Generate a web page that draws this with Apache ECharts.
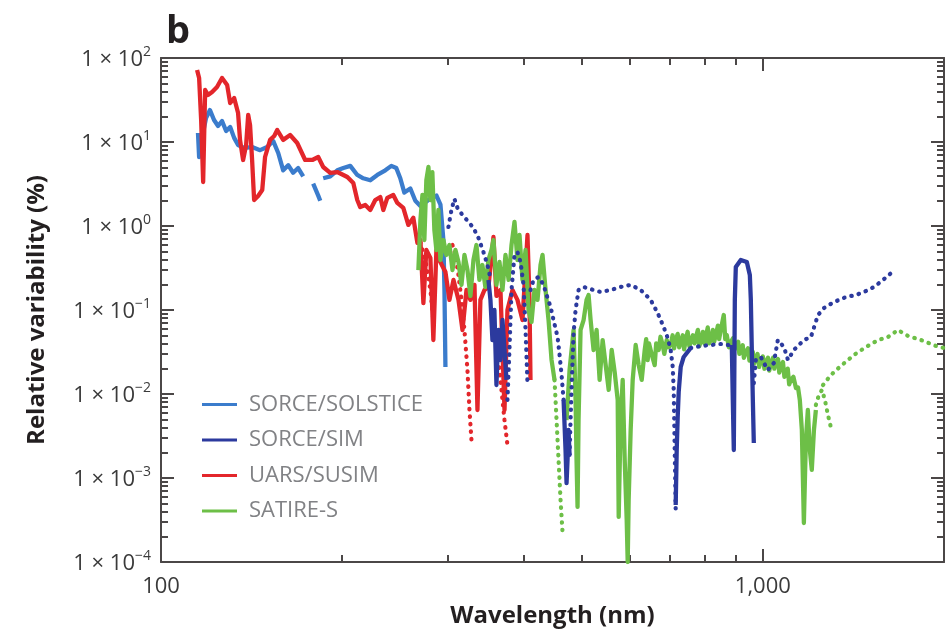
<!DOCTYPE html>
<html><head><meta charset="utf-8">
<script src="https://cdn.jsdelivr.net/npm/echarts@6/dist/echarts.min.js"></script>
<style>html,body{margin:0;padding:0;background:#fff}#c{width:949px;height:641px}</style>
</head><body><div id="c"></div>
<script>
// ---------- data: [wavelength (nm), relative variability (%)] ----------
const solsticeSegs = [
  [[115.2,12.8],[115.7,6.6],[117.0,11.2],[118.8,19.3],[120.6,24.0],[122.5,18.3],[124.4,15.5],[126.3,17.8],[128.3,13.5],[130.3,15.1],[132.3,11.2],[134.3,9.2],[137.4,8.5],[141.7,8.7],[146.1,8.0],[150.1,8.7],[153.6,10.3],[156.6,7.4],[159.6,4.6],[162.7,5.3],[165.8,4.3],[169.0,4.9],[172.3,3.9]],
  [[179.0,3.2],[182.5,2.3],[183.9,2.0]],
  [[186.0,3.7],[191.1,3.9],[196.3,4.6],[200.9,4.9],[206.3,5.2],[211.9,4.05],[216.8,3.7],[222.7,3.5],[228.8,4.05],[235.9,4.6],[241.4,5.2],[246.0,4.9],[249.8,3.7],[253.7,2.5],[259.6,2.8],[264.6,2.0],[269.8,1.73],[278.2,2.04],[286.9,2.3],[291.3,1.8],[294.6,0.68],[295.8,0.17],[296.9,0.021]]
];
const susimSolid = [
  [[114.8,71.9],[115.7,57.8],[116.6,18.3],[117.5,3.34],[118.4,41.6],[119.7,36.3],[121.6,39.4],[123.9,45.2],[126.3,57.8],[128.8,47.7],[130.3,29.1],[132.3,33.4],[134.3,22.1],[135.3,10.6],[136.9,6.11],[138.5,9.21],[139.6,21.0],[140.6,15.9],[141.7,6.11],[142.8,2.04],[145.0,2.28],[147.3,2.68],[148.9,6.63],[151.8,10.6],[154.2,11.8],[156.0,13.9],[159.6,10.6],[163.9,12.1],[168.4,9.73],[173.6,6.11],[178.4,6.11],[182.5,6.63],[186.0,5.04],[191.1,4.28],[196.3,4.39],[200.9,4.05],[204.0,3.83],[208.7,3.25],[211.9,2.04],[214.3,1.68],[218.5,1.78],[222.7,1.55],[227.0,2.04],[231.4,2.21],[234.1,1.55],[237.7,2.16],[243.2,2.34],[247.0,1.88],[252.7,1.64],[257.6,1.03],[262.6,1.25],[266.7,0.628],[269.8,0.681],[272.9,0.121],[276.0,0.518],[280.3,0.416],[283.5,0.0439],[286.8,0.518],[291.2,0.373],[296.9,0.283],[301.5,0.132],[306.2,0.228],[312.1,0.132],[316.9,0.0578],[321.8,0.173],[326.7,0.132],[331.8,0.199],[335.6,0.00645],[339.4,0.132],[344.7,0.173],[350.0,0.188],[356.8,0.74],[360.9,0.147],[366.5,0.173],[372.2,0.00645],[376.4,0.1],[383.7,0.173],[391.1,0.132],[398.7,0.076],[406.4,0.781],[409.5,0.132],[411.1,0.0147]]
];
const susimDotted = [
  [[267.7,0.781],[271.9,0.518],[276.0,0.343],[280.3,0.173],[283.5,0.076]],
  [[305.0,0.594],[308.5,0.452],[312.1,0.261],[315.7,0.132],[319.3,0.0578],[323.0,0.0193],[325.5,0.00645],[328.0,0.00283]],
  [[363.7,0.0254],[367.9,0.0112],[372.2,0.0049],[376.4,0.00247]]
];
const simSolid = [
  [[350.0,0.228],[352.7,0.132],[355.4,0.0439],[358.1,0.1],[360.9,0.0128],[363.7,0.0578],[366.5,0.0254],[369.3,0.076],[372.2,0.0334],[375.0,0.0147]],
  [[466.6,0.0085],[470.1,0.00215],[471.9,0.00087],[473.7,0.00164],[475.5,0.00373],[477.4,0.00188]],
  [[716.5,0.000477],[719.3,0.00215],[722.0,0.00532],[724.8,0.0106],[730.4,0.021],[738.8,0.0276],[758.9,0.0353]],
  [[888.0,0.0383],[891.5,0.0085],[894.9,0.00215],[898.4,0.132],[901.8,0.325],[919.2,0.394],[940.6,0.373],[951.5,0.261],[955.1,0.132],[958.7,0.0334],[962.5,0.0085],[966.1,0.00261]]
];
const simDotted = [
  [[300.3,0.973],[303.8,1.55],[307.3,2.10],[310.9,1.64],[316.9,1.35],[324.3,1.12],[330.5,0.947],[336.9,0.72],[343.4,0.49],[348.7,0.343],[352.7,0.24]],
  [[376.4,0.0085],[379.3,0.0334],[382.3,0.173],[386.7,0.452],[391.1,0.49],[395.7,0.373],[400.3,0.199],[403.4,0.0578],[406.4,0.0135]],
  [[411.1,0.173],[415.9,0.228],[424.0,0.247],[432.2,0.199],[437.2,0.151],[443.9,0.109],[449.0,0.076],[456.0,0.0477],[459.5,0.0291],[463.0,0.0168],[466.6,0.0085]],
  [[477.4,0.00188],[479.2,0.0049],[481.0,0.0112],[482.9,0.0254],[484.8,0.0532],[488.5,0.1],[494.1,0.173],[503.7,0.188],[523.3,0.173],[537.6,0.164],[558.6,0.173],[580.4,0.188],[603.1,0.199],[626.6,0.173],[651.1,0.132],[668.7,0.092],[684.3,0.0628],[694.9,0.0464],[702.9,0.0334],[708.4,0.021],[711.1,0.0112],[712.5,0.0049],[713.8,0.00215],[715.2,0.00095],[716.5,0.00042]],
  [[758.9,0.0353],[788.6,0.0373],[819.4,0.0383],[851.4,0.0394],[877.8,0.0383],[888.0,0.0373]],
  [[966.1,0.0135],[973.6,0.0254],[992.4,0.0276],[1019,0.0193],[1043,0.0234],[1059,0.0439],[1084,0.0363],[1101,0.0254],[1126,0.0334],[1170,0.0439],[1202,0.0477],[1235,0.0872],[1264,0.1057],[1313,0.1245],[1375,0.1428],[1428,0.151],[1473,0.164],[1530,0.188],[1584,0.228],[1633,0.275]]
];
const satireSolid = [
  [[267.7,0.299],[269.8,1.18],[271.9,2.34],[273.9,0.681],[276.0,3.53],[278.2,5.04],[280.3,2.04],[282.4,4.39],[284.6,0.895],[286.8,0.518],[289.0,1.55],[291.2,0.394],[294.6,0.681],[298.0,0.452],[301.5,0.594],[305.0,0.299],[308.5,0.518],[312.1,0.373],[315.7,0.199],[319.3,0.452],[323.0,0.299],[326.7,0.147],[330.5,0.394],[334.3,0.594],[338.1,0.228],[342.0,0.343],[345.9,0.188],[350.0,0.394],[354.1,0.518],[356.8,0.681],[360.9,0.199],[365.1,0.373],[369.3,0.173],[373.6,0.452],[378.1,0.228],[382.3,0.594],[386.7,1.12],[391.1,0.394],[394.2,0.781],[398.7,0.228],[403.4,0.518],[408.0,0.1],[412.7,0.072],[417.4,0.173],[422.3,0.132],[427.2,0.343],[430.5,0.452],[435.5,0.173],[440.5,0.076],[445.6,0.0254],[450.7,0.0147]],
  [[471.9,0.0049],[477.4,0.0193],[484.8,0.0578],[488.5,0.0085],[490.3,0.00164],[492.2,0.000452],[494.1,0.0049],[497.9,0.0578],[503.7,0.076],[509.5,0.132],[513.4,0.151],[517.4,0.076],[523.3,0.0334],[529.4,0.0578],[535.6,0.0147],[541.8,0.0439],[548.1,0.0221],[554.5,0.0112],[560.9,0.0334],[567.3,0.0183],[573.9,0.0085],[576.1,0.000344],[580.4,0.0049],[585.0,0.0147],[589.5,0.00164],[594.0,0.00032],[596.3,0.0001],[598.5,0.00055],[603.1,0.00373],[607.8,0.0147],[614.8,0.0383],[621.9,0.0221],[629.1,0.0147],[636.4,0.0334],[640,0.045],[643.7,0.0254],[647,0.04],[651.1,0.0383],[655,0.028],[661.2,0.0221],[665,0.04],[671.4,0.0334],[676,0.048],[681.8,0.0383],[686,0.03],[692.3,0.0439],[697,0.036],[702.9,0.0383],[708,0.05],[712,0.035],[716.5,0.0439],[722,0.052],[726,0.036],[730.4,0.0416],[736,0.05],[740,0.034],[744.5,0.0439],[750,0.055],[755,0.037],[758.9,0.0383],[765,0.05],[770,0.04],[773.6,0.0464],[780,0.058],[784,0.037],[788.6,0.0416],[795,0.055],[800,0.04],[803.9,0.0477],[810,0.062],[814,0.04],[819.4,0.0439],[826,0.058],[830,0.042],[835.4,0.0504],[842,0.065],[846,0.045],[851.4,0.0578],[856,0.07],[861.2,0.0872],[866,0.045],[871.2,0.0504],[878,0.036],[884.6,0.0416],[892,0.046],[896,0.033],[901.8,0.0383],[910,0.042],[914,0.03],[919.2,0.0334],[926,0.038],[930,0.027],[936.9,0.0316],[945,0.035],[950,0.025],[955.1,0.0291],[962,0.032],[967,0.023],[973.6,0.0268],[980,0.03],[986,0.021],[992.4,0.0254],[1000,0.028],[1006,0.02],[1012,0.024],[1020,0.027],[1025,0.019],[1031,0.0228],[1040,0.027],[1045,0.02],[1051,0.024],[1060,0.026],[1065,0.018],[1071,0.0216],[1080,0.024],[1086,0.016],[1092,0.0183],[1100,0.02],[1106,0.013],[1113,0.0147],[1124,0.016],[1135,0.0118],[1144,0.012],[1152,0.0085],[1161,0.00373],[1170,0.000291],[1179,0.00283],[1188,0.00645],[1197,0.00215],[1206,0.00125],[1216,0.00373],[1225,0.00645]]
];
const satireDotted = [
  [[450.7,0.0147],[454.2,0.0049],[457.7,0.00164],[461.2,0.00055],[464.8,0.000221]],
  [[1225,0.0074],[1239,0.00973],[1254,0.0112],[1268,0.0085],[1283,0.00562],[1297,0.00405]],
  [[1259,0.0128],[1297,0.0168],[1348,0.0216],[1417,0.0291],[1484,0.0363],[1554,0.0439],[1614,0.0477],[1677,0.0578],[1743,0.049],[1832,0.0439],[1941,0.0373],[2000,0.0353]]
];

const seriesNames = ['SORCE/SOLSTICE','SORCE/SIM','UARS/SUSIM','SATIRE-S'];
const seriesColors = ['#3b7ccc','#2c3a9e','#e3262b','#6dbf47'];

// ---------- axes ----------
const xMin = 100, xMax = 2000;
const yMin = 0.0001, yMax = 100;
const xMajorTicks = [100, 1000];
const xMinorTicks = [200,300,400,500,600,700,800,900,2000];
const xTickLabels = ['100','1,000'];
const yMajorTicks = [0.0001,0.001,0.01,0.1,1,10,100];
const yExponentLabels = ['\u22124','\u22123','\u22122','\u22121','0','1','2'];
const yMinorMultipliers = [2,3,4,5,6,7,8,9];

const yMinorTicks = [];
yMajorTicks.slice(0,-1).forEach(d => yMinorMultipliers.forEach(m => yMinorTicks.push(+(d*m).toPrecision(3))));

const FONT = 'Open Sans';
const axisColor = '#4b4747';
const labelColor = '#3a3a3a';

function joinSegs(segs){ const out=[]; segs.forEach((s,i)=>{ if(i) out.push('-'); s.forEach(p=>out.push(p)); }); return out; }

function xAx(pos, ticks, len, opts){
  return Object.assign({
    type:'log', logBase:10, min:xMin, max:xMax, position:pos,
    axisLine:{show:false}, splitLine:{show:false},
    axisTick:{show:true, inside:true, length:len, customValues:ticks, lineStyle:{color:axisColor,width:2}},
    axisLabel:{show:false}
  }, opts||{});
}
function yAx(pos, ticks, len, opts){
  return Object.assign({
    type:'log', logBase:10, min:yMin, max:yMax, position:pos,
    axisLine:{show:false}, splitLine:{show:false},
    axisTick:{show:true, inside:true, length:len, customValues:ticks, lineStyle:{color:axisColor,width:2}},
    axisLabel:{show:false}
  }, opts||{});
}

const xAxes = [
  xAx('bottom', xMajorTicks, 13, {
    axisLine:{show:true, lineStyle:{color:axisColor,width:2}},
    axisLabel:{show:true, customValues:xMajorTicks, margin:14, color:labelColor, fontSize:22, fontFamily:FONT,
      formatter: v => xTickLabels[xMajorTicks.findIndex(t=>Math.abs(t-v)<1e-6*t)] || ''},
    name:'Wavelength (nm)', nameLocation:'middle', nameGap:42,
    nameTextStyle:{fontSize:24, fontWeight:'bold', color:'#231f20', fontFamily:FONT}
  }),
  xAx('bottom', xMinorTicks, 7),
  xAx('top', xMajorTicks, 13, {axisLine:{show:true, lineStyle:{color:axisColor,width:2}}}),
  xAx('top', xMinorTicks, 7)
];
const yAxes = [
  yAx('left', yMajorTicks, 13, {
    axisLine:{show:true, lineStyle:{color:axisColor,width:2}},
    axisLabel:{show:true, customValues:yMajorTicks, margin:10, color:labelColor, fontFamily:FONT,
      formatter: v => {
        const i = yMajorTicks.findIndex(t=>Math.abs(t-v)<1e-6*t);
        return '{b|1 \u00d7 10}{s|' + (i>=0 ? yExponentLabels[i] : '') + '}';
      },
      rich:{
        b:{fontSize:22, color:labelColor, fontFamily:FONT, lineHeight:26, verticalAlign:'bottom'},
        s:{fontSize:14, color:labelColor, fontFamily:FONT, lineHeight:26, verticalAlign:'top'}
      }},
    name:'Relative variability (%)', nameLocation:'middle', nameGap:112, nameRotate:90,
    nameTextStyle:{fontSize:24, fontWeight:'bold', color:'#231f20', fontFamily:FONT}
  }),
  yAx('left', yMinorTicks, 7),
  yAx('right', yMajorTicks, 13, {axisLine:{show:true, lineStyle:{color:axisColor,width:2}}}),
  yAx('right', yMinorTicks, 7)
];

function mk(nameIdx, segs, dotted, z){
  return {
    type:'line', name:seriesNames[nameIdx], xAxisIndex:0, yAxisIndex:0,
    data: joinSegs(segs), showSymbol:false, symbol:'none', connectNulls:false,
    color: seriesColors[nameIdx], z: z, silent:true, animation:false,
    lineStyle: dotted ? {width:4.2, color:seriesColors[nameIdx], type:[0.5,7], cap:'round'}
                      : {width:4.3, color:seriesColors[nameIdx], join:'round'}
  };
}

const series = [
  mk(0, solsticeSegs, false, 2),
  mk(2, susimSolid, false, 3),
  mk(2, susimDotted, true, 3),
  mk(3, satireSolid, false, 4),
  mk(3, satireDotted, true, 4),
  mk(1, simSolid, false, 5),
  mk(1, simDotted, true, 5)
];

const chart = echarts.init(document.getElementById('c'), null, {renderer:'canvas'});
chart.setOption({
  animation:false,
  backgroundColor:'#ffffff',
  title:{text:'b', left:161, top:8, textStyle:{fontSize:38, fontWeight:'bold', color:'#231f20', fontFamily:FONT}},
  grid:{left:161, top:58, right:5, bottom:79, containLabel:false},
  legend:{
    orient:'vertical', left:197, top:388, icon:'rect', itemWidth:35, itemHeight:3, itemGap:12.5,
    data: seriesNames.map((n,i)=>({name:n, itemStyle:{color:seriesColors[i]}})),
    textStyle:{color:'#818285', fontSize:22, fontFamily:FONT, lineHeight:23, padding:[0,0,0,7]},
    selectedMode:false
  },
  xAxis: xAxes,
  yAxis: yAxes,
  series: series
});
</script>
</body></html>
